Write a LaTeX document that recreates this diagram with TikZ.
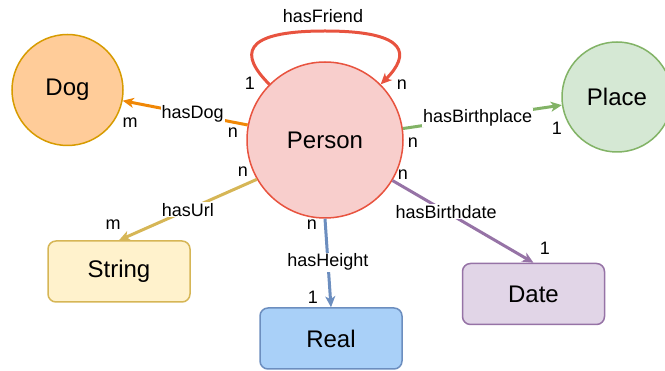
\documentclass[tikz,border=0pt]{standalone}
\usepackage{fontspec}
\setmainfont{Liberation Sans}
\usetikzlibrary{arrows.meta}

\definecolor{personfill}{HTML}{F8CECC}
\definecolor{personline}{HTML}{E8533F}
\definecolor{dogfill}{HTML}{FFCC99}
\definecolor{dogline}{HTML}{D79B00}
\definecolor{dogarrow}{HTML}{F08705}
\definecolor{placefill}{HTML}{D5E8D4}
\definecolor{placeline}{HTML}{82B366}
\definecolor{stringfill}{HTML}{FFF2CC}
\definecolor{stringline}{HTML}{D6B656}
\definecolor{realfill}{HTML}{A9D0F8}
\definecolor{realline}{HTML}{6C8EBF}
\definecolor{datefill}{HTML}{E1D5E7}
\definecolor{dateline}{HTML}{9673A6}

\tikzset{
  class/.style={circle, draw, line width=1.5pt, inner sep=0pt, font=\fontsize{24}{28}\selectfont},
  datatype/.style={rectangle, rounded corners=8pt, draw, line width=1.5pt, inner sep=0pt,
    minimum width=142pt, minimum height=61pt, font=\fontsize{24}{28}\selectfont},
  rel/.style={line width=3pt, -{Stealth[length=11pt,width=10pt,inset=3pt]}},
  rellabel/.style={fill=white, text=black, inner sep=1pt, font=\fontsize{18}{20}\selectfont},
  card/.style={inner sep=0pt, font=\fontsize{18}{20}\selectfont},
}

\begin{document}
\begin{tikzpicture}[x=1pt, y=-1pt]
    \useasboundingbox (0,0) rectangle (665,371);
    % Classes
    \node[class, fill=personfill, draw=personline, minimum size=156pt] (Person) at (325,140) {Person};
    \node[class, fill=dogfill, draw=dogline, minimum size=111pt] (Dog) at (67.5,90) {Dog};
    \node[class, fill=placefill, draw=placeline, minimum size=110pt] (Place) at (617,97) {Place};
    % Datatypes
    \node[datatype, fill=stringfill, draw=stringline] (String) at (119,271.5) {String};
    \node[datatype, fill=realfill, draw=realline] (Real) at (331,338.5) {Real};
    \node[datatype, fill=datefill, draw=dateline] (Date) at (533.5,294) {Date};
    % Arrows
    \draw[rel, personline] (Person.135) .. controls (240,55) and (240,31) .. (325,31)
        .. controls (410,31) and (410,55) .. (Person.45);
    \node[rellabel, fill=none] (lbl-friend) at (323,16) {hasFriend};
    \draw[rel, dogarrow] (Person) -- node[rellabel, pos=0.44] (lbl-dog) {hasDog} (Dog);
    \draw[rel, placeline] (Person) -- node[rellabel, pos=0.47] (lbl-place) {hasBirthplace} (Place);
    \draw[rel, stringline] (Person.210) -- node[rellabel, pos=0.5] (lbl-url) {hasUrl} (String.north);
    \draw[rel, realline] (Person.south) -- node[rellabel, pos=0.49] (lbl-height) {hasHeight} (Real.north);
    \draw[rel, dateline] (Person.-31) -- node[rellabel, pos=0.38] (lbl-date) {hasBirthdate} (Date.north);
    % Cardinalities
    \foreach \txt/\x/\y [count=\i] in {1/250/83, n/402/85, n/233/133, m/130/123, n/413/143, 1/557/128,
        n/243/172, m/113/225, n/312/225, 1/313/297, n/403/175, 1/545/248} {
        \node[card] (card-\i) at (\x,\y) {\txt};
    }
\end{tikzpicture}
\end{document}
